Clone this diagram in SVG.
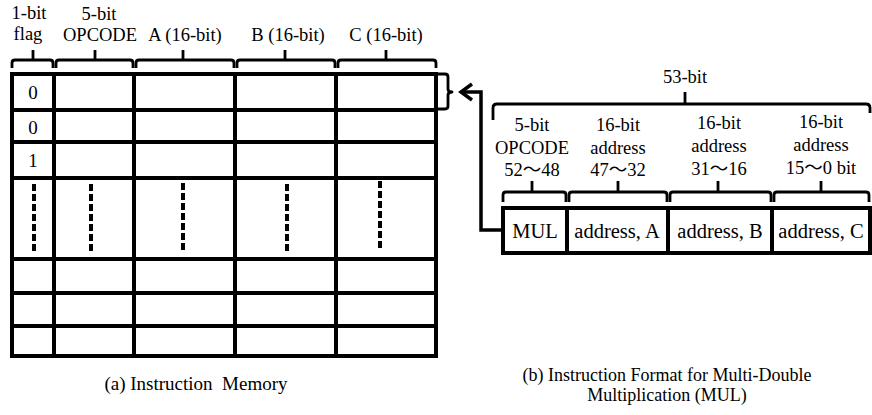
<svg xmlns="http://www.w3.org/2000/svg" width="872" height="415" viewBox="0 0 872 415">
  <style>
    text { font-family: "Liberation Serif", "Noto Sans CJK JP", serif; fill: #000; text-anchor: middle; }
    .lbl { font-size: 18.5px; }
    .cell { font-size: 19px; }
    .box { font-size: 20.5px; }
    .cap { font-size: 19px; white-space: pre; }
    .cap2 { font-size: 18px; }
    .grid { fill: none; stroke: #000; stroke-width: 4; }
    .brace { fill: none; stroke: #000; stroke-width: 2.8; stroke-linejoin: round; }
    .dots { stroke: #000; stroke-width: 4; stroke-dasharray: 7 3; }
    .wire { fill: none; stroke: #000; stroke-width: 3.5; stroke-linejoin: miter; }
  </style>

  <!-- (a) instruction memory table -->
  <g id="instruction-memory">
    <rect class="grid" x="12" y="74" width="424" height="282"/>
    <path class="grid" d="M54,74 V356 M134,74 V356 M235,74 V356 M336,74 V356"/>
    <path class="grid" d="M12,110 H436 M12,142 H436 M12,178 H436 M12,259 H436 M12,293 H436 M12,326 H436"/>
    <text class="cell" x="33" y="99">0</text>
    <text class="cell" x="33" y="134">0</text>
    <text class="cell" x="33" y="167">1</text>
    <path class="dots" d="M34,184 V253 M91,184 V253 M183,183 V252 M287,184 V253 M380,181 V250"/>
  </g>

  <!-- field labels above the table -->
  <g id="memory-fields">
    <path class="brace" d="M12,68 V63 Q12,60 15,60 H50 Q53,60 53,63 V68 M33,60 V50"/>
    <path class="brace" d="M56,68 V63 Q56,60 59,60 H130 Q133,60 133,63 V68 M95,60 V50"/>
    <path class="brace" d="M136,68 V63 Q136,60 139,60 H231 Q234,60 234,63 V68 M183,60 V50"/>
    <path class="brace" d="M237,68 V63 Q237,60 240,60 H332 Q335,60 335,63 V68 M285,60 V50"/>
    <path class="brace" d="M338,68 V63 Q338,60 341,60 H433 Q436,60 436,63 V68 M386,60 V50"/>
    <text class="lbl" x="29" y="19">1-bit</text>
    <text class="lbl" x="28" y="40">flag</text>
    <text class="lbl" x="99" y="20">5-bit</text>
    <text class="lbl" x="100" y="41">OPCODE</text>
    <text class="lbl" x="185" y="41">A (16-bit)</text>
    <text class="lbl" x="288" y="41">B (16-bit)</text>
    <text class="lbl" x="386" y="41">C (16-bit)</text>
    <!-- brace marking one memory row -->
    <path class="brace" d="M437,74 H445 Q448,74 448,77 V89 Q448,92 452,92 Q448,92 448,95 V106 Q448,109 445,109 H437"/>
  </g>

  <!-- (b) 53-bit MUL instruction word -->
  <g id="mul-format">
    <rect class="grid" x="503" y="208" width="367" height="45"/>
    <path class="grid" d="M567,208 V253 M668,208 V253 M772,208 V253"/>
    <text class="box" x="535" y="238">MUL</text>
    <text class="box" x="617" y="238">address, A</text>
    <text class="box" x="720" y="238">address, B</text>
    <text class="box" x="821" y="238">address, C</text>
  </g>

  <g id="format-fields">
    <path class="brace" d="M493,120 V108 Q493,104 497,104 H866 Q870,104 870,108 V113 M685,104 V92"/>
    <text class="lbl" x="685" y="83">53-bit</text>
    <path class="brace" d="M503,202 V195 Q503,192 506,192 H563 Q566,192 566,195 V202 M532,192 V181"/>
    <path class="brace" d="M569,202 V195 Q569,192 572,192 H664 Q667,192 667,195 V202 M618,192 V181"/>
    <path class="brace" d="M670,202 V195 Q670,192 673,192 H768 Q771,192 771,195 V202 M718,192 V181"/>
    <path class="brace" d="M774,202 V195 Q774,192 777,192 H866 Q869,192 869,195 V202 M821,192 V181"/>
    <text class="lbl" x="532" y="131">5-bit</text>
    <text class="lbl" x="532" y="154">OPCODE</text>
    <text class="lbl" x="532" y="176">52～48</text>
    <text class="lbl" x="618" y="131">16-bit</text>
    <text class="lbl" x="618" y="154">address</text>
    <text class="lbl" x="618" y="176">47～32</text>
    <text class="lbl" x="719" y="129">16-bit</text>
    <text class="lbl" x="719" y="152">address</text>
    <text class="lbl" x="719" y="175">31～16</text>
    <text class="lbl" x="821" y="128">16-bit</text>
    <text class="lbl" x="821" y="151">address</text>
    <text class="lbl" x="821" y="174">15～0 bit</text>
  </g>

  <!-- connector: instruction word loaded into a memory row -->
  <g id="connectors">
    <path class="wire" d="M503,230 H481 V92 H461"/>
    <path class="wire" d="M472,84 L461,92 L472,100"/>
  </g>

  <!-- captions -->
  <g id="captions">
    <text class="cap" x="196" y="390" xml:space="preserve">(a) Instruction  Memory</text>
    <text class="cap2" x="667" y="381">(b) Instruction Format for Multi-Double</text>
    <text class="cap2" x="667" y="401">Multiplication (MUL)</text>
  </g>
</svg>
